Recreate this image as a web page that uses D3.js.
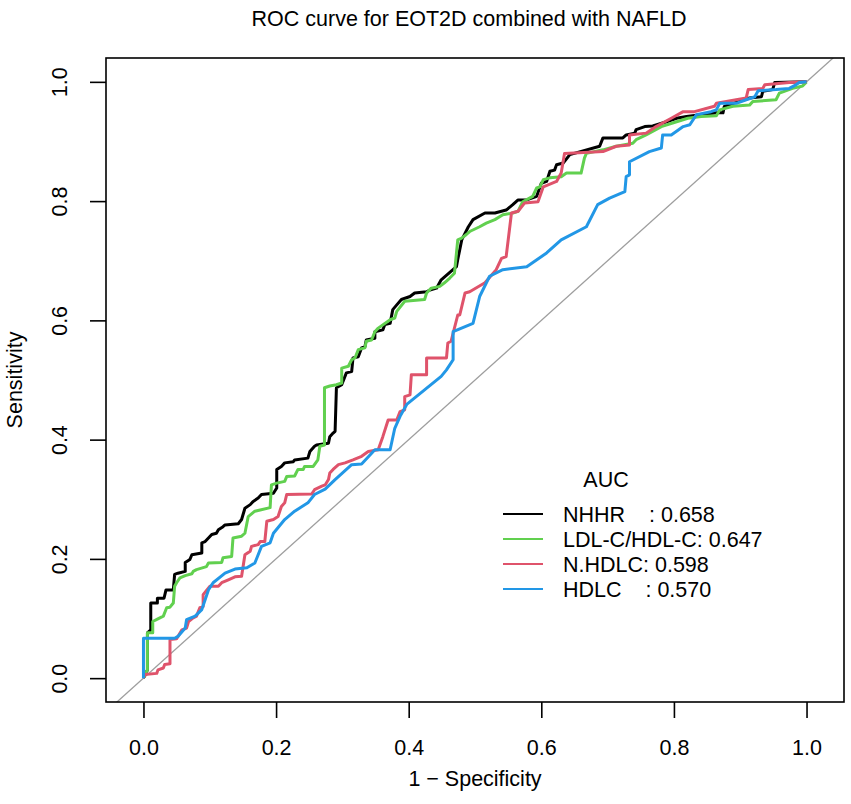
<!DOCTYPE html>
<html>
<head>
<meta charset="utf-8">
<script src="https://cdn.jsdelivr.net/npm/d3@7"></script>
<style>
  body { margin: 0; background: #fff; }
  svg { font-family: "Liberation Sans", Arial, sans-serif; }
</style>
</head>
<body>
<svg id="chart" width="851" height="804"></svg>
<script>
// ROC points [1 - specificity, sensitivity]
const nhhr = [
  [0, 0], [0.006, 0.014], [0.006, 0.076], [0.011, 0.081], [0.011, 0.126], [0.021, 0.126],
  [0.021, 0.134], [0.031, 0.134], [0.034, 0.148], [0.045, 0.148], [0.047, 0.174], [0.052, 0.176],
  [0.063, 0.179], [0.063, 0.194], [0.070, 0.199], [0.073, 0.207], [0.088, 0.210], [0.088, 0.227],
  [0.093, 0.229], [0.098, 0.235], [0.103, 0.241], [0.110, 0.243], [0.113, 0.249], [0.120, 0.254],
  [0.123, 0.257], [0.143, 0.259], [0.148, 0.266], [0.153, 0.285], [0.161, 0.291], [0.165, 0.296],
  [0.173, 0.302], [0.178, 0.308], [0.196, 0.310], [0.201, 0.319], [0.201, 0.350], [0.208, 0.355],
  [0.213, 0.361], [0.226, 0.363], [0.228, 0.366], [0.248, 0.369], [0.251, 0.380], [0.258, 0.389],
  [0.261, 0.391], [0.279, 0.394], [0.281, 0.405], [0.286, 0.411], [0.289, 0.414], [0.291, 0.487],
  [0.299, 0.492], [0.306, 0.512], [0.314, 0.514], [0.316, 0.537], [0.324, 0.539], [0.329, 0.554],
  [0.334, 0.556], [0.336, 0.567], [0.349, 0.570], [0.349, 0.581], [0.361, 0.584], [0.364, 0.593],
  [0.372, 0.595], [0.376, 0.618], [0.382, 0.626], [0.389, 0.635], [0.402, 0.640], [0.409, 0.646],
  [0.427, 0.648], [0.432, 0.651], [0.442, 0.654], [0.449, 0.668], [0.472, 0.690], [0.474, 0.702],
  [0.480, 0.735], [0.490, 0.757], [0.497, 0.769], [0.515, 0.780], [0.530, 0.780], [0.547, 0.785],
  [0.557, 0.794], [0.565, 0.802], [0.578, 0.802], [0.593, 0.808], [0.600, 0.830], [0.608, 0.833],
  [0.613, 0.850], [0.620, 0.852], [0.623, 0.861], [0.633, 0.864], [0.643, 0.878], [0.688, 0.892],
  [0.693, 0.906], [0.723, 0.906], [0.728, 0.911], [0.741, 0.914], [0.743, 0.920], [0.756, 0.925],
  [0.768, 0.926], [0.789, 0.933], [0.804, 0.939], [0.819, 0.942], [0.864, 0.948], [0.874, 0.948],
  [0.876, 0.959], [0.914, 0.973], [0.932, 0.975], [0.934, 0.984], [0.949, 0.987], [0.952, 0.999],
  [1, 1]
];

const ldlHdl = [
  [0, 0], [0.006, 0.014], [0.006, 0.076], [0.014, 0.076], [0.014, 0.095], [0.021, 0.099],
  [0.030, 0.104], [0.035, 0.118], [0.040, 0.119], [0.045, 0.126], [0.047, 0.154], [0.050, 0.160],
  [0.055, 0.168], [0.063, 0.172], [0.073, 0.175], [0.075, 0.179], [0.080, 0.182], [0.095, 0.187],
  [0.098, 0.193], [0.118, 0.194], [0.120, 0.202], [0.133, 0.204], [0.135, 0.235], [0.148, 0.238],
  [0.153, 0.243], [0.158, 0.271], [0.168, 0.280], [0.176, 0.282], [0.191, 0.286], [0.193, 0.324],
  [0.201, 0.327], [0.213, 0.330], [0.216, 0.338], [0.228, 0.339], [0.233, 0.350], [0.241, 0.350],
  [0.243, 0.355], [0.256, 0.355], [0.263, 0.366], [0.266, 0.389], [0.273, 0.391], [0.273, 0.487],
  [0.281, 0.490], [0.291, 0.492], [0.299, 0.495], [0.299, 0.520], [0.309, 0.523], [0.314, 0.534],
  [0.319, 0.537], [0.324, 0.551], [0.334, 0.554], [0.336, 0.565], [0.344, 0.567], [0.349, 0.581],
  [0.354, 0.587], [0.372, 0.601], [0.379, 0.604], [0.382, 0.615], [0.394, 0.632], [0.424, 0.635],
  [0.427, 0.646], [0.434, 0.654], [0.447, 0.657], [0.454, 0.663], [0.462, 0.671], [0.469, 0.679],
  [0.474, 0.735], [0.480, 0.738], [0.487, 0.744], [0.492, 0.749], [0.507, 0.757], [0.517, 0.763],
  [0.530, 0.769], [0.542, 0.777], [0.557, 0.780], [0.565, 0.783], [0.572, 0.799], [0.587, 0.808],
  [0.593, 0.822], [0.598, 0.824], [0.603, 0.836], [0.613, 0.839], [0.630, 0.841], [0.638, 0.847],
  [0.660, 0.847], [0.665, 0.872], [0.668, 0.880], [0.693, 0.886], [0.713, 0.892], [0.738, 0.897],
  [0.743, 0.903], [0.758, 0.911], [0.781, 0.925], [0.798, 0.931], [0.821, 0.939], [0.841, 0.942],
  [0.864, 0.943], [0.869, 0.953], [0.889, 0.959], [0.914, 0.961], [0.919, 0.967], [0.954, 0.970],
  [0.959, 0.981], [0.979, 0.989], [0.994, 0.993], [1, 1]
];

const nHdlc = [
  [0, 0], [0.002, 0.006], [0.020, 0.008], [0.022, 0.014], [0.030, 0.017], [0.032, 0.023],
  [0.040, 0.024], [0.040, 0.065], [0.050, 0.066], [0.052, 0.070], [0.058, 0.081], [0.065, 0.084],
  [0.068, 0.095], [0.075, 0.101], [0.080, 0.104], [0.085, 0.118], [0.090, 0.120], [0.090, 0.140],
  [0.100, 0.154], [0.113, 0.154], [0.118, 0.160], [0.128, 0.165], [0.138, 0.170], [0.148, 0.171],
  [0.153, 0.207], [0.161, 0.213], [0.163, 0.221], [0.173, 0.224], [0.176, 0.229], [0.183, 0.229],
  [0.186, 0.263], [0.196, 0.266], [0.203, 0.271], [0.208, 0.288], [0.213, 0.294], [0.216, 0.308],
  [0.254, 0.309], [0.258, 0.316], [0.269, 0.322], [0.274, 0.324], [0.279, 0.333], [0.281, 0.344],
  [0.286, 0.350], [0.294, 0.358], [0.304, 0.361], [0.316, 0.366], [0.329, 0.372], [0.339, 0.380],
  [0.354, 0.383], [0.361, 0.405], [0.369, 0.433], [0.382, 0.433], [0.387, 0.447], [0.394, 0.450],
  [0.394, 0.472], [0.402, 0.475], [0.404, 0.509], [0.427, 0.509], [0.427, 0.537], [0.457, 0.537],
  [0.459, 0.562], [0.464, 0.565], [0.474, 0.609], [0.477, 0.609], [0.485, 0.646], [0.492, 0.648],
  [0.515, 0.663], [0.532, 0.685], [0.540, 0.704], [0.547, 0.707], [0.555, 0.780], [0.565, 0.783],
  [0.575, 0.797], [0.595, 0.799], [0.603, 0.824], [0.623, 0.833], [0.630, 0.847], [0.635, 0.880],
  [0.693, 0.883], [0.713, 0.892], [0.733, 0.894], [0.733, 0.911], [0.758, 0.914], [0.773, 0.925],
  [0.796, 0.939], [0.814, 0.950], [0.831, 0.950], [0.861, 0.959], [0.864, 0.964], [0.909, 0.973],
  [0.912, 0.987], [0.934, 0.989], [0.937, 0.995], [0.974, 0.999], [1, 1]
];

const hdlc = [
  [0, 0], [0, 0.067], [0.047, 0.067], [0.052, 0.070], [0.063, 0.084], [0.065, 0.098],
  [0.078, 0.104], [0.088, 0.115], [0.098, 0.148], [0.105, 0.160], [0.123, 0.176], [0.138, 0.183],
  [0.156, 0.185], [0.168, 0.193], [0.178, 0.221], [0.191, 0.227], [0.196, 0.243], [0.213, 0.266],
  [0.228, 0.280], [0.248, 0.294], [0.258, 0.308], [0.274, 0.317], [0.289, 0.333], [0.314, 0.358],
  [0.329, 0.359], [0.349, 0.383], [0.372, 0.383], [0.379, 0.419], [0.387, 0.439], [0.397, 0.459],
  [0.449, 0.506], [0.457, 0.517], [0.467, 0.534], [0.467, 0.581], [0.497, 0.595], [0.507, 0.640],
  [0.522, 0.674], [0.542, 0.685], [0.578, 0.690], [0.608, 0.713], [0.630, 0.735], [0.668, 0.757],
  [0.685, 0.794], [0.703, 0.805], [0.726, 0.816], [0.728, 0.841], [0.733, 0.844], [0.733, 0.866],
  [0.763, 0.883], [0.781, 0.889], [0.783, 0.911], [0.796, 0.911], [0.814, 0.925], [0.824, 0.928],
  [0.834, 0.945], [0.856, 0.950], [0.864, 0.953], [0.869, 0.964], [0.894, 0.964], [0.909, 0.970],
  [0.922, 0.975], [0.927, 0.985], [0.954, 0.987], [0.974, 0.989], [0.984, 0.995], [0.989, 0.999],
  [1, 1]
];

const seriesNames = ["NHHR    : 0.658", "LDL-C/HDL-C: 0.647", "N.HDLC: 0.598", "HDLC    : 0.570"];
const seriesColors = ["#000000", "#61D04F", "#DF536B", "#2297E6"];
const tickValues = [0, 0.2, 0.4, 0.6, 0.8, 1.0];

const svg = d3.select("#chart");
const box = { left: 106, right: 844, top: 58, bottom: 702 };
const fontSize = 21.5;

const x = d3.scaleLinear().domain([-0.0565, 1.0565]).range([box.left, box.right]);
const y = d3.scaleLinear().domain([-0.04, 1.04]).range([box.bottom, box.top]);

svg.append("defs").append("clipPath").attr("id", "plotclip")
  .append("rect")
  .attr("x", box.left).attr("y", box.top)
  .attr("width", box.right - box.left).attr("height", box.bottom - box.top);

const plot = svg.append("g").attr("clip-path", "url(#plotclip)");

// identity line
plot.append("line")
  .attr("x1", x(-0.1)).attr("y1", y(-0.1))
  .attr("x2", x(1.1)).attr("y2", y(1.1))
  .attr("stroke", "#9e9e9e")
  .attr("stroke-width", 1.3);

const line = d3.line().x(d => x(d[0])).y(d => y(d[1]));

[nhhr, ldlHdl, nHdlc, hdlc].forEach((pts, i) => {
  plot.append("path")
    .datum(pts)
    .attr("fill", "none")
    .attr("stroke", seriesColors[i])
    .attr("stroke-width", 3)
    .attr("stroke-linejoin", "round")
    .attr("d", line);
});

// box
svg.append("rect")
  .attr("x", box.left).attr("y", box.top)
  .attr("width", box.right - box.left).attr("height", box.bottom - box.top)
  .attr("fill", "none").attr("stroke", "#000").attr("stroke-width", 1.6);

// x axis
const gx = svg.append("g")
  .attr("transform", `translate(0,${box.bottom})`)
  .call(d3.axisBottom(x).tickValues(tickValues).tickSize(16).tickFormat(d3.format(".1f")));
gx.select(".domain").remove();
gx.selectAll("line").attr("stroke-width", 1.6);
gx.selectAll("text")
  .attr("y", 53).attr("dy", 0)
  .attr("font-size", fontSize)
  .attr("font-family", "Liberation Sans, Arial, sans-serif")
  .attr("fill", "#000");

// y axis
const gy = svg.append("g")
  .attr("transform", `translate(${box.left},0)`)
  .call(d3.axisLeft(y).tickValues(tickValues).tickSize(16).tickFormat(d3.format(".1f")));
gy.select(".domain").remove();
gy.selectAll("line").attr("stroke-width", 1.6);
gy.selectAll("text")
  .attr("x", 0).attr("dy", 0)
  .attr("text-anchor", "middle")
  .attr("transform", "translate(-39,0) rotate(-90)")
  .attr("font-size", fontSize)
  .attr("font-family", "Liberation Sans, Arial, sans-serif")
  .attr("fill", "#000");

// titles
svg.append("text")
  .attr("x", (box.left + box.right) / 2 - 6).attr("y", 26)
  .attr("text-anchor", "middle")
  .attr("font-size", fontSize)
  .text("ROC curve for EOT2D combined with NAFLD");

svg.append("text")
  .attr("x", (box.left + box.right) / 2).attr("y", 786)
  .attr("text-anchor", "middle")
  .attr("font-size", fontSize)
  .text("1 \u2212 Specificity");

svg.append("text")
  .attr("transform", `translate(22,${(box.top + box.bottom) / 2}) rotate(-90)`)
  .attr("text-anchor", "middle")
  .attr("font-size", fontSize)
  .text("Sensitivity");

// legend
const legend = svg.append("g");
legend.append("text")
  .attr("x", 606).attr("y", 487)
  .attr("text-anchor", "middle")
  .attr("font-size", fontSize)
  .text("AUC");

seriesNames.forEach((name, i) => {
  const by = 522 + i * 25;
  legend.append("line")
    .attr("x1", 503).attr("x2", 543)
    .attr("y1", by - 8).attr("y2", by - 8)
    .attr("stroke", seriesColors[i])
    .attr("stroke-width", 2);
  legend.append("text")
    .attr("x", 563).attr("y", by)
    .attr("font-size", fontSize)
    .style("white-space", "pre")
    .text(name);
});
</script>
</body>
</html>
